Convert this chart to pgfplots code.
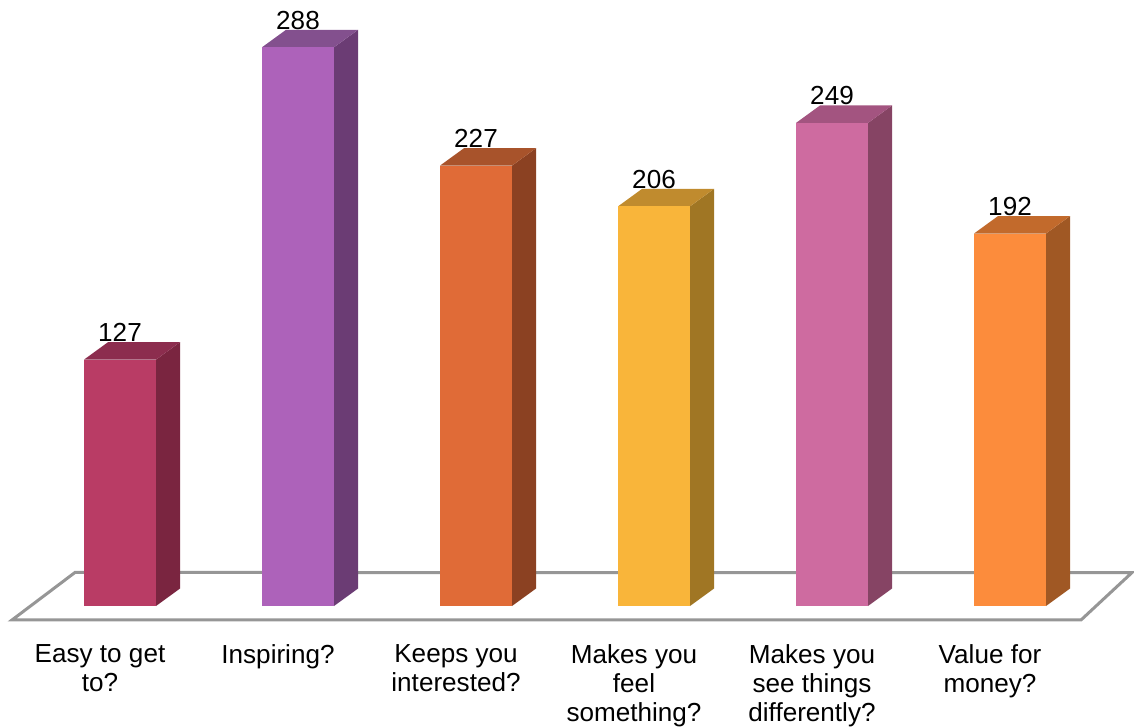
\documentclass[border=0pt]{standalone}
\usepackage{fontspec}
\setmainfont{Liberation Sans}
\usepackage{pgfplots}
\pgfplotsset{compat=1.18}
\definecolor{fA}{RGB}{185,60,101}\definecolor{sA}{RGB}{122,37,64}\definecolor{tA}{RGB}{140,45,78}
\definecolor{fB}{RGB}{173,98,186}\definecolor{sB}{RGB}{107,60,116}\definecolor{tB}{RGB}{131,80,142}
\definecolor{fC}{RGB}{224,107,55}\definecolor{sC}{RGB}{139,65,34}\definecolor{tC}{RGB}{168,83,43}
\definecolor{fD}{RGB}{249,181,58}\definecolor{sD}{RGB}{160,118,36}\definecolor{tD}{RGB}{192,139,46}
\definecolor{fE}{RGB}{206,107,160}\definecolor{sE}{RGB}{134,68,100}\definecolor{tE}{RGB}{163,84,128}
\definecolor{fF}{RGB}{252,140,60}\definecolor{sF}{RGB}{160,88,36}\definecolor{tF}{RGB}{194,106,44}
\definecolor{floorline}{RGB}{150,150,150}
\newcommand{\lblfont}{\fontsize{26.2}{29.5}\selectfont}
\begin{document}
\begin{tikzpicture}
\begin{axis}[
  scale only axis, width=1134bp, height=724bp,
  xmin=-0.6742, xmax=5.6966, ymin=-60.82, ymax=312.37,
  axis line style={draw=none},
  ytick=\empty,
  xtick={0,...,5},
  xticklabels={{Easy to get\\to?},{Inspiring?},{Keeps you\\interested?},{Makes you\\feel\\something?},{Makes you\\see things\\differently?},{Value for\\money?}},
  xtick style={draw=none},
  xticklabel style={align=center, font=\lblfont, anchor=north, inner sep=0pt, xshift=-20bp, yshift=80bp},
  clip=false,
  /pgf/number format/assume math mode=true,
  every node near coord/.append style={font=\lblfont, anchor=base, inner sep=0pt, yshift=18bp, text=black},
]
% floor
\addplot[draw=floorline, line width=3bp, fill=white] coordinates {(-0.6067,-7.2) (5.399,-7.2) (5.685,17.2) (-0.2528,17.3)} --cycle;
% bar 1
\addplot[fill=sA, draw=none] coordinates {(0.2022,0) (0.3371,9) (0.3371,136) (0.2022,127)} --cycle;
\addplot[fill=tA, draw=none] coordinates {(-0.2022,127) (-0.0674,136) (0.3371,136) (0.2022,127)} --cycle;
\addplot[ybar, bar width=0.4045, bar shift=0pt, fill=fA, draw=none, nodes near coords] coordinates {(0,127)};
% bar 2
\addplot[fill=sB, draw=none] coordinates {(1.2022,0) (1.3371,9) (1.3371,297) (1.2022,288)} --cycle;
\addplot[fill=tB, draw=none] coordinates {(0.7978,288) (0.9326,297) (1.3371,297) (1.2022,288)} --cycle;
\addplot[ybar, bar width=0.4045, bar shift=0pt, fill=fB, draw=none, nodes near coords] coordinates {(1,288)};
% bar 3
\addplot[fill=sC, draw=none] coordinates {(2.2022,0) (2.3371,9) (2.3371,236) (2.2022,227)} --cycle;
\addplot[fill=tC, draw=none] coordinates {(1.7978,227) (1.9326,236) (2.3371,236) (2.2022,227)} --cycle;
\addplot[ybar, bar width=0.4045, bar shift=0pt, fill=fC, draw=none, nodes near coords] coordinates {(2,227)};
% bar 4
\addplot[fill=sD, draw=none] coordinates {(3.2022,0) (3.3371,9) (3.3371,215) (3.2022,206)} --cycle;
\addplot[fill=tD, draw=none] coordinates {(2.7978,206) (2.9326,215) (3.3371,215) (3.2022,206)} --cycle;
\addplot[ybar, bar width=0.4045, bar shift=0pt, fill=fD, draw=none, nodes near coords] coordinates {(3,206)};
% bar 5
\addplot[fill=sE, draw=none] coordinates {(4.2022,0) (4.3371,9) (4.3371,258) (4.2022,249)} --cycle;
\addplot[fill=tE, draw=none] coordinates {(3.7978,249) (3.9326,258) (4.3371,258) (4.2022,249)} --cycle;
\addplot[ybar, bar width=0.4045, bar shift=0pt, fill=fE, draw=none, nodes near coords] coordinates {(4,249)};
% bar 6
\addplot[fill=sF, draw=none] coordinates {(5.2022,0) (5.3371,9) (5.3371,201) (5.2022,192)} --cycle;
\addplot[fill=tF, draw=none] coordinates {(4.7978,192) (4.9326,201) (5.3371,201) (5.2022,192)} --cycle;
\addplot[ybar, bar width=0.4045, bar shift=0pt, fill=fF, draw=none, nodes near coords] coordinates {(5,192)};
\end{axis}
\end{tikzpicture}
\end{document}
